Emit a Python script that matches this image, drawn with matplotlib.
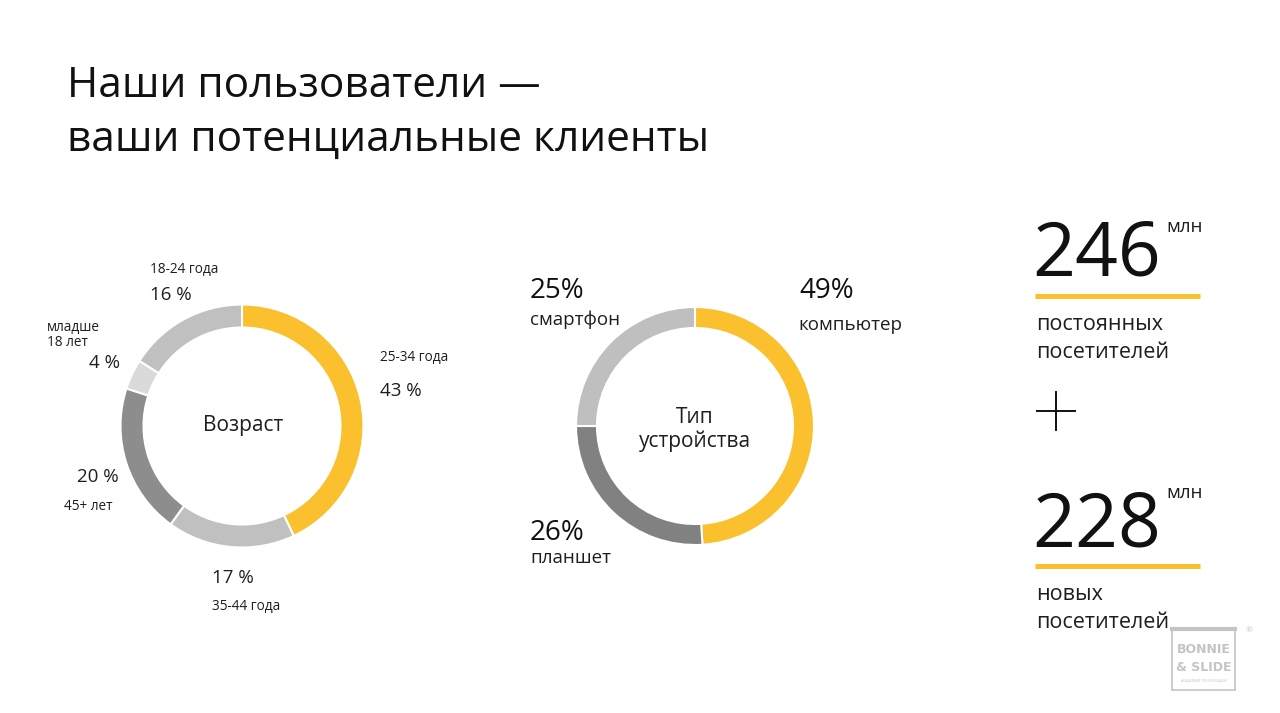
import matplotlib
matplotlib.use("Agg")
import matplotlib.pyplot as plt
from matplotlib.patches import Rectangle

plt.rcParams['font.family'] = ['Open Sans', 'DejaVu Sans']

# ---------------- data ----------------
title_lines = ["Наши пользователи —", "ваши потенциальные клиенты"]

age_center_label = "Возраст"
age_groups = ["25-34 года", "35-44 года", "45+ лет", "младше\n18 лет", "18-24 года"]
age_values = [43, 17, 20, 4, 16]
age_pct_labels = ["43 %", "17 %", "20 %", "4 %", "16 %"]

device_center_label = "Тип\nустройства"
device_types = ["компьютер", "планшет", "смартфон"]
device_values = [49, 26, 25]
device_pct_labels = ["49%", "26%", "25%"]

stat_numbers = ["246", "228"]
stat_units = ["млн", "млн"]
stat_captions = ["постоянных\nпосетителей", "новых\nпосетителей"]

# ---------------- style ----------------
YELLOW = "#FAC02D"
age_colors = [YELLOW, "#BFC0BF", "#8C8D8C", "#DADADA", "#BFC0BF"]
device_colors = [YELLOW, "#808180", "#BEBFBE"]
TXT = "#111111"
LBL = "#1e1e1e"

W, H = 1280, 713
fig = plt.figure(figsize=(W / 100, H / 100), dpi=100)
ax = fig.add_axes([0, 0, 1, 1])

# donuts (y axis inverted -> counterclock=True gives visual clockwise)
wp = dict(edgecolor='white', linewidth=1.5)
ax.pie(age_values, colors=age_colors, center=(242, 426), radius=121.5,
       startangle=-90, counterclock=True, frame=True,
       wedgeprops=dict(width=23, **wp))
ax.pie(device_values, colors=device_colors, center=(695, 426), radius=119,
       startangle=-90, counterclock=True, frame=True,
       wedgeprops=dict(width=21, **wp))
ax.set_xlim(0, W)
ax.set_ylim(H, 0)
ax.set_aspect('equal')
ax.axis('off')

# title
ax.text(67, 97, title_lines[0], fontsize=30.5, color=TXT, va='baseline', ha='left')
ax.text(67, 151, title_lines[1], fontsize=30.5, color=TXT, va='baseline', ha='left')

# centre labels
ax.text(243, 431.5, age_center_label, fontsize=15, color=LBL, ha='center', va='baseline')
ax.text(695, 423, device_center_label.split("\n")[0], fontsize=15, color=LBL, ha='center', va='baseline')
ax.text(695, 446.5, device_center_label.split("\n")[1], fontsize=15, color=LBL, ha='center', va='baseline')

# age labels: (name pos, pct pos)
age_name_pos = [(380, 361.5), (212, 610), (64, 510), (47, 331.5), (150, 272.5)]
age_pct_pos = [(380, 396), (212, 583), (77, 481.5), (89, 368), (150, 300.5)]
for i, name in enumerate(age_groups):
    nx, ny = age_name_pos[i]
    if "\n" in name:
        a, b = name.split("\n")
        ax.text(nx, ny, a, fontsize=9.8, color=LBL, ha='left', va='baseline')
        ax.text(nx, ny + 15, b, fontsize=9.8, color=LBL, ha='left', va='baseline')
    else:
        ax.text(nx, ny, name, fontsize=9.8, color=LBL, ha='left', va='baseline')
    px, py = age_pct_pos[i]
    ax.text(px, py, age_pct_labels[i], fontsize=13.5, color=LBL, ha='left', va='baseline')

# device labels
dev_pct_pos = [(799, 298), (530, 540), (530, 298)]
dev_name_pos = [(798, 330), (530, 563), (530, 325)]
for i, name in enumerate(device_types):
    px, py = dev_pct_pos[i]
    ax.text(px, py, device_pct_labels[i], fontsize=20, color=TXT, ha='left', va='baseline')
    nx, ny = dev_name_pos[i]
    ax.text(nx, ny, name, fontsize=13.5, color=LBL, ha='left', va='baseline')

# right side stats
num_base = [275, 546.5]
unit_base = [231.5, 498]
line_y = [296, 566]
cap_base = [330, 600]
for i in range(2):
    ax.text(1032, num_base[i], stat_numbers[i], fontsize=54, color=TXT, ha='left', va='baseline')
    ax.text(1166, unit_base[i], stat_units[i], fontsize=13.5, color=LBL, ha='left', va='baseline')
    ax.plot([1035, 1200], [line_y[i], line_y[i]], color=YELLOW, lw=3.6, solid_capstyle='butt')
    c1, c2 = stat_captions[i].split("\n")
    ax.text(1036, cap_base[i], c1, fontsize=15.5, color=LBL, ha='left', va='baseline')
    ax.text(1036, cap_base[i] + 28.5, c2, fontsize=15.5, color=LBL, ha='left', va='baseline')

# plus sign
ax.plot([1037, 1075], [411, 411], color=TXT, lw=1.4)
ax.plot([1056, 1056], [392, 430], color=TXT, lw=1.4)

# watermark logo
LG = "#C4C4C4"
ax.add_patch(Rectangle((1172, 629), 63, 61, fill=False, edgecolor=LG, lw=1.2))
ax.plot([1170, 1237], [629, 629], color=LG, lw=3, solid_capstyle='butt')
ax.text(1203.5, 653, "BONNIE", fontsize=9, color=LG, ha='center', va='baseline',
        family=['DejaVu Sans'], fontweight='bold')
ax.text(1203.5, 671, "& SLIDE", fontsize=9, color=LG, ha='center', va='baseline',
        family=['DejaVu Sans'], fontweight='bold')
ax.text(1203.5, 682, "АКАДЕМИЯ ПРЕЗЕНТАЦИЙ", fontsize=2.5, color=LG, ha='center', va='baseline')
ax.text(1249, 632, "®", fontsize=6, color=LG, ha='center', va='baseline')

fig.savefig("out.png", dpi=100, facecolor='white')
